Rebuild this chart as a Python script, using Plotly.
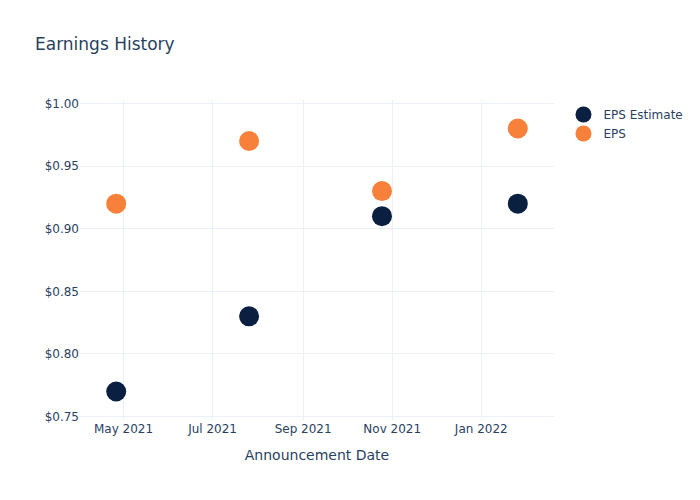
import plotly.graph_objects as go

dates = ["2021-04-26", "2021-07-26", "2021-10-25", "2022-01-26"]
eps_estimate = [0.77, 0.83, 0.91, 0.92]
eps_actual = [0.92, 0.97, 0.93, 0.98]

fig = go.Figure()
fig.add_trace(go.Scatter(x=dates, y=eps_estimate, mode="markers", name="EPS Estimate",
                         marker=dict(color="#0b1f41", size=20)))
fig.add_trace(go.Scatter(x=dates, y=eps_actual, mode="markers", name="EPS",
                         marker=dict(color="#f7813a", size=20)))
fig.update_layout(
    template="plotly_white",
    width=700, height=500,
    font=dict(family="DejaVu Sans"),
    title=dict(text="Earnings History"),
    xaxis=dict(title=dict(text="Announcement Date")),
    yaxis=dict(tickprefix="$", tickformat=".2f"),
)
fig.write_html("out.html")
